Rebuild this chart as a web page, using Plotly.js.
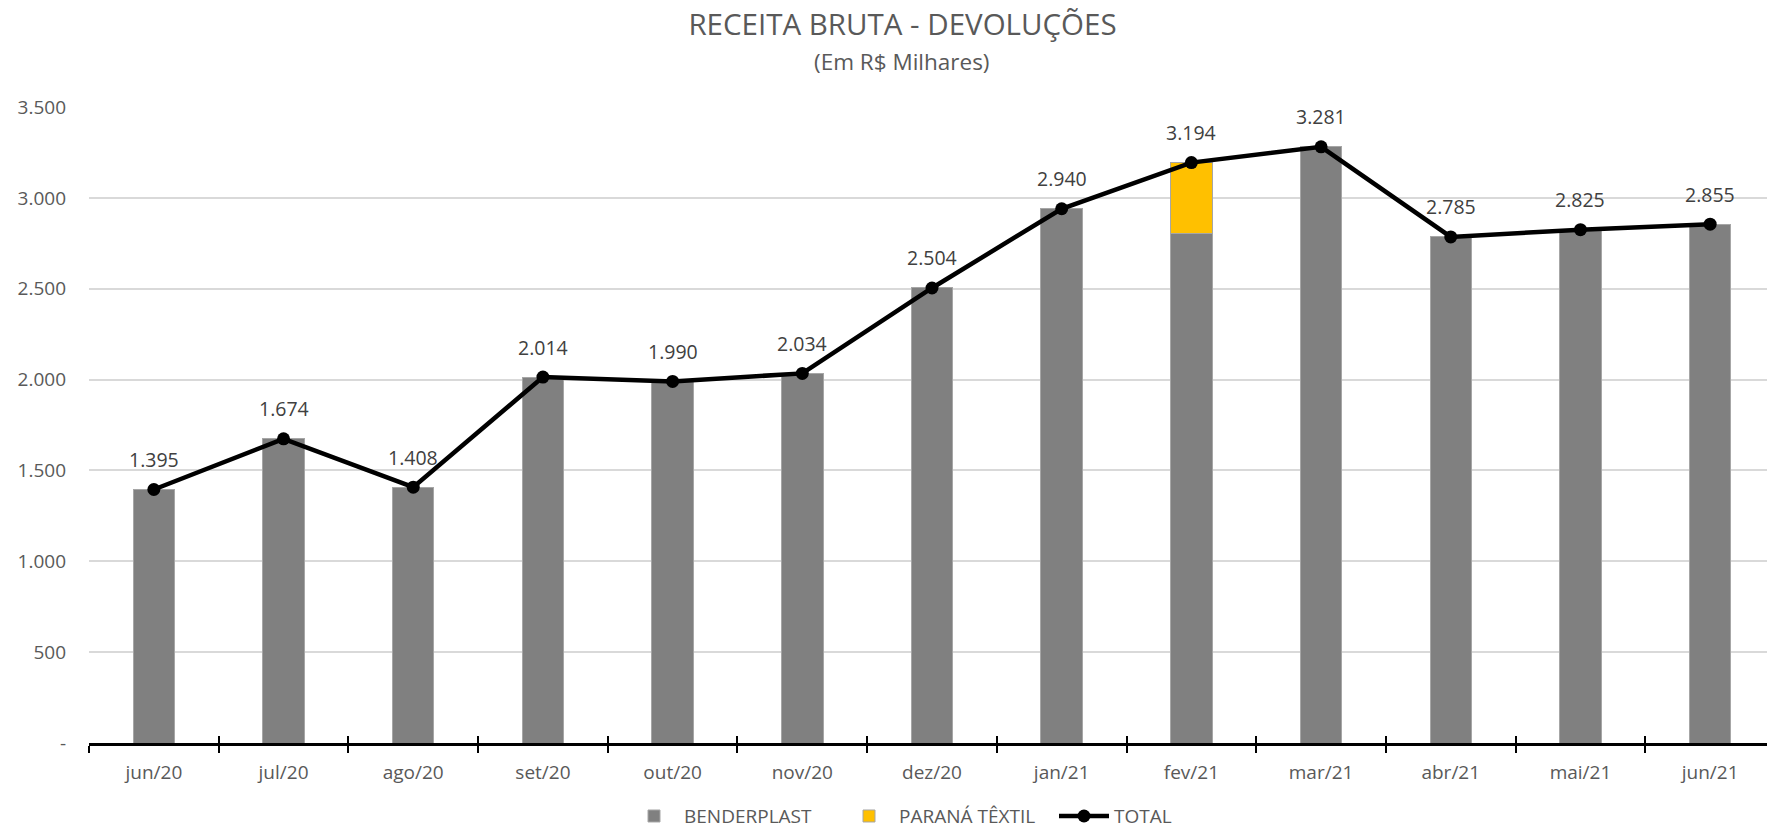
<!DOCTYPE html>
<html>
<head>
<meta charset="utf-8">
<script src="https://cdn.plot.ly/plotly-3.0.1.min.js"></script>
<style>
html,body{margin:0;padding:0;overflow:hidden;background:#fff;}
#chart{width:1776px;height:829px;}
</style>
</head>
<body>
<div id="chart"></div>
<script>
const months = ['jun/20','jul/20','ago/20','set/20','out/20','nov/20','dez/20','jan/21','fev/21','mar/21','abr/21','mai/21','jun/21'];
const benderplast = [1395,1674,1408,2014,1990,2034,2504,2940,2805,3281,2785,2825,2855];
const paranaTextil = [0,0,0,0,0,0,0,0,389,0,0,0,0];
const total = [1395,1674,1408,2014,1990,2034,2504,2940,3194,3281,2785,2825,2855];
const yTickVals = [0,500,1000,1500,2000,2500,3000,3500];
const yTickText = ['-','500','1.000','1.500','2.000','2.500','3.000','3.500'];

function fmt(v){ return String(v).replace(/\B(?=(\d{3})+(?!\d))/g,'.'); }

const FONT = 'Open Sans, sans-serif';

const traces = [
  {type:'bar', name:'BENDERPLAST', x:months, y:benderplast,
   marker:{color:'#808080', line:{color:'#a6a6a6', width:1}}, hoverinfo:'skip'},
  {type:'bar', name:'PARANÁ TÊXTIL', x:months, y:paranaTextil,
   marker:{color:'#ffc000', line:{color:'#a6a6a6', width:1}}, hoverinfo:'skip'},
  {type:'scatter', mode:'lines+markers', name:'TOTAL', x:months, y:total, xaxis:'x2',
   line:{color:'#000000', width:4.5}, marker:{color:'#000000', size:13}, hoverinfo:'skip'}
];

const annotations = months.map((m,i)=>({
  x:m, y:total[i], xref:'x', yref:'y', text:fmt(total[i]), showarrow:false,
  yshift:30, font:{family:FONT, size:19.5, color:'#404040'}
}));
annotations.push({
  xref:'paper', yref:'paper', x:0.4825, y:1.071, xanchor:'center', yanchor:'middle',
  text:'(Em R$ Milhares)', showarrow:false, font:{family:FONT, size:22.5, color:'#595959'}
});

const layout = {
  width:1776, height:829,
  margin:{l:89, r:1, t:107, b:86, autoexpand:false},
  paper_bgcolor:'#ffffff', plot_bgcolor:'#ffffff',
  barmode:'stack', bargap:0.68,
  title:{text:'RECEITA BRUTA - DEVOLUÇÕES', x:0.4825, xanchor:'center', xref:'paper',
         y:1-25/829, yanchor:'middle', yref:'container',
         font:{family:FONT, size:29.5, color:'#595959'}},
  font:{family:FONT, color:'#595959'},
  xaxis:{type:'category', categoryorder:'array', categoryarray:months, range:[-0.5,12.5],
         showline:true, linecolor:'#000000', linewidth:2.5, ticks:'outside', ticklen:7,
         tickwidth:2, tickcolor:'#000000', tickson:'boundaries', showgrid:false, zeroline:false,
         tickfont:{family:FONT, size:19, color:'#595959'}, ticklabelstandoff:11, fixedrange:true},
  xaxis2:{type:'category', categoryorder:'array', categoryarray:months, range:[-0.5,12.5],
          overlaying:'x', anchor:'y', side:'bottom', ticks:'inside', ticklen:7, tickwidth:2,
          tickcolor:'#000000', tickson:'boundaries', showticklabels:false, showgrid:false,
          showline:false, zeroline:false, fixedrange:true},
  yaxis:{range:[0,3500], tickvals:yTickVals, ticktext:yTickText, showgrid:true,
         gridcolor:'#d9d9d9', gridwidth:2, zeroline:false, showline:false, ticks:'',
         tickfont:{family:FONT, size:19, color:'#595959'}, ticklabelstandoff:22, fixedrange:true},
  showlegend:true,
  legend:{orientation:'h', x:(624-89)/1686, xanchor:'left', y:-0.115, yanchor:'middle',
          font:{family:FONT, size:19, color:'#595959'}, traceorder:'normal', itemwidth:50,
          entrywidth:150, entrywidthmode:'pixels'},
  annotations:annotations
};

Plotly.newPlot('chart', traces, layout, {displayModeBar:false, staticPlot:true});
</script>
</body>
</html>
